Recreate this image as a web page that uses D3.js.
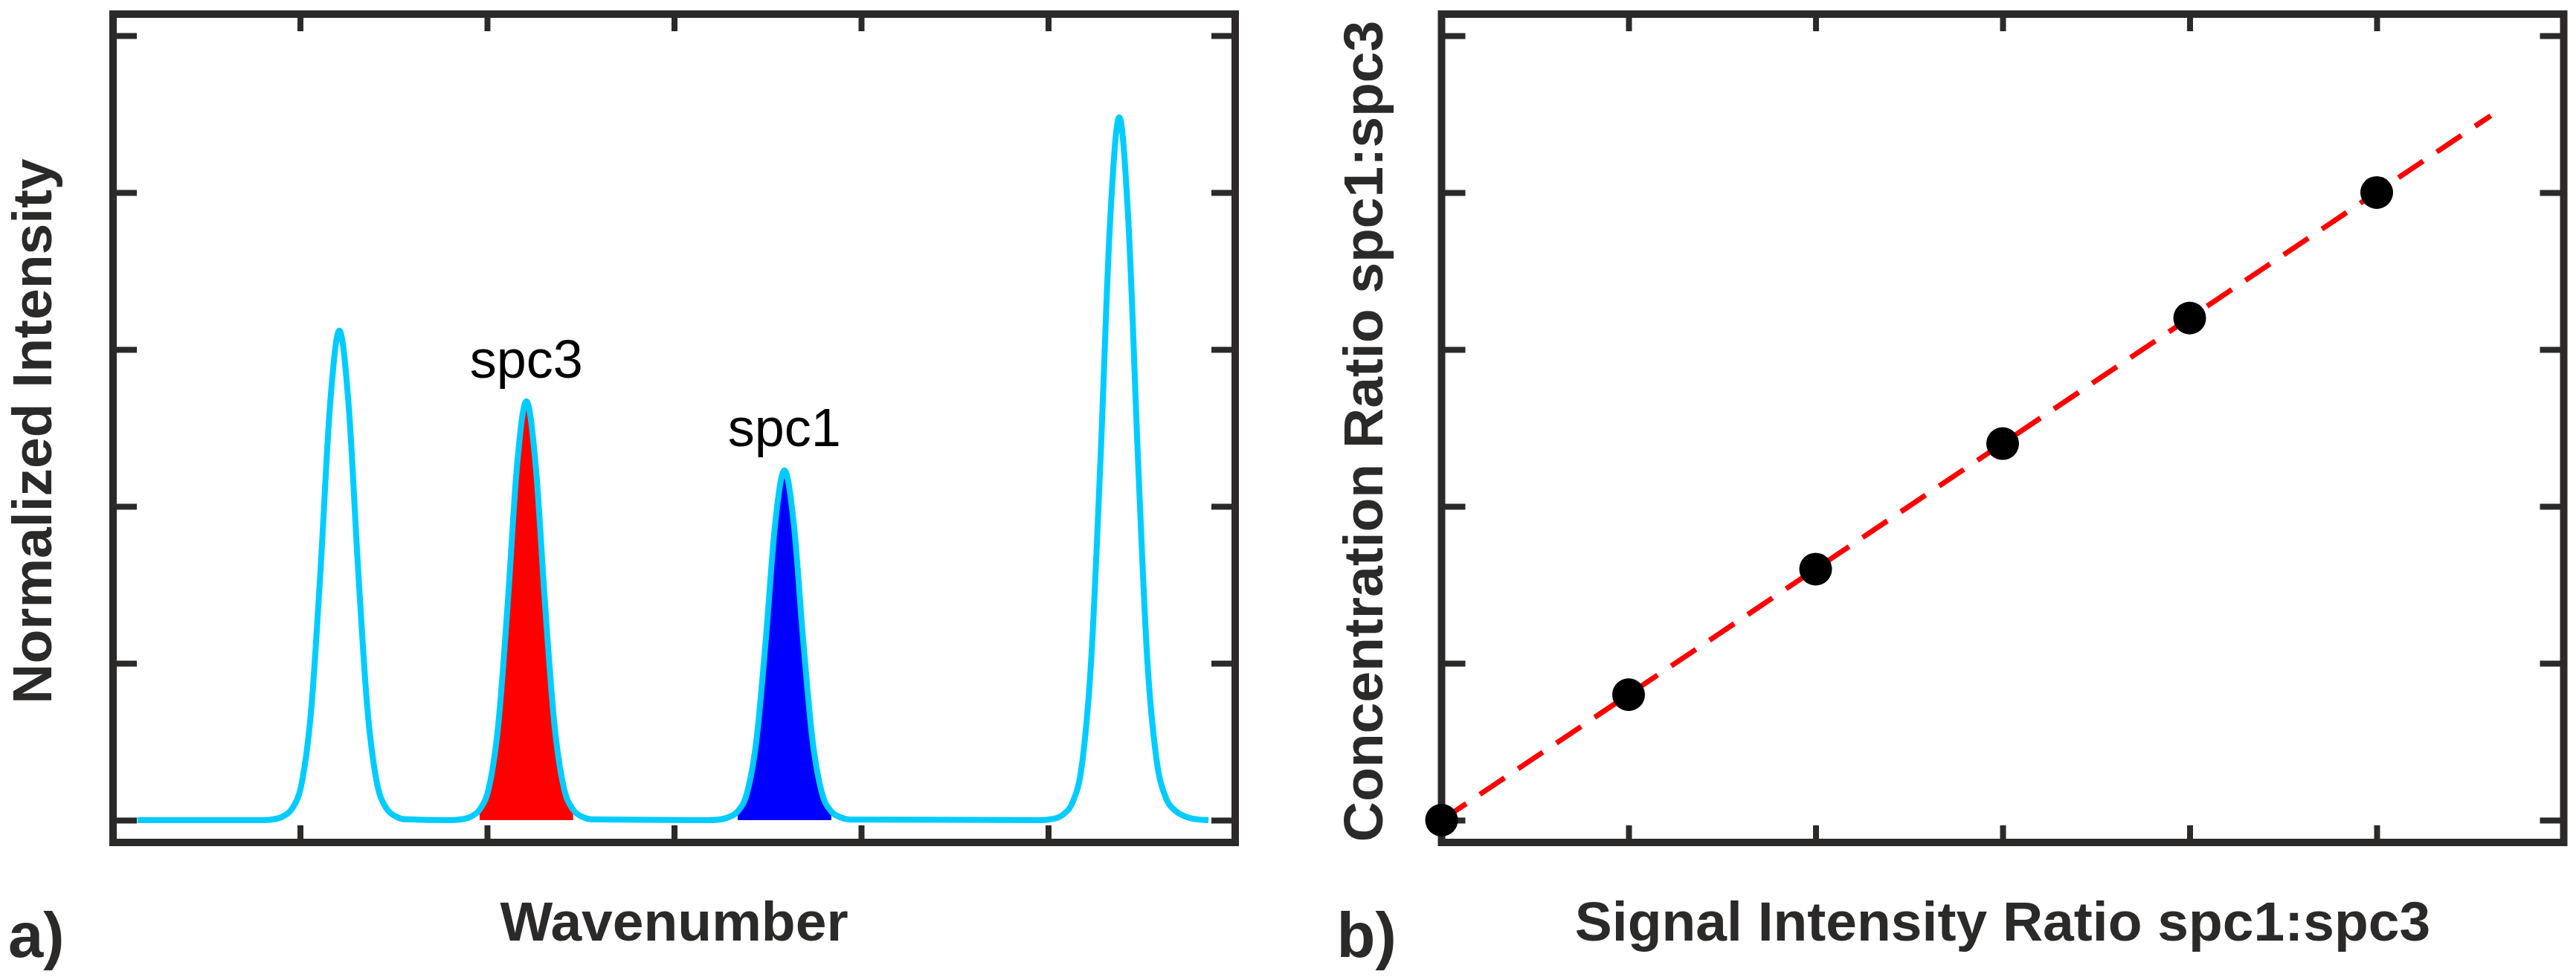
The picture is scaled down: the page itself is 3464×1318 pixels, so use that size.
<!DOCTYPE html>
<html>
<head>
<meta charset="utf-8">
<script src="https://cdn.jsdelivr.net/npm/d3@7"></script>
<style>
  body { margin: 0; background: #fff; }
  text { font-family: "Liberation Sans", Arial, sans-serif; }
</style>
</head>
<body>
<svg id="chart" width="3464" height="1318"></svg>
<script>
// spectrum read off panel a) (x in tick units, y in tick units)
var specX = [0.13, 0.80, 0.86, 0.91, 0.96, 1.01, 1.06, 1.11, 1.16, 1.21, 1.26, 1.31, 1.36, 1.41, 1.46, 1.51, 1.56,
             1.80, 1.86, 1.91, 1.96, 2.01, 2.06, 2.11, 2.16, 2.21, 2.26, 2.31, 2.36, 2.41, 2.46, 2.51, 2.56,
             3.18, 3.24, 3.29, 3.34, 3.39, 3.44, 3.49, 3.54, 3.59, 3.64, 3.69, 3.74, 3.79, 3.84, 3.89, 3.94,
             4.96, 5.03, 5.08, 5.13, 5.18, 5.23, 5.28, 5.33, 5.38, 5.43, 5.48, 5.53, 5.58, 5.63, 5.68, 5.73, 5.78, 5.857];
var specY = [0, 0, 0.006, 0.025, 0.078, 0.243, 0.711, 1.607, 2.640, 3.12, 2.640, 1.607, 0.711, 0.243, 0.078, 0.025, 0.006,
             0, 0.005, 0.021, 0.067, 0.208, 0.609, 1.375, 2.259, 2.67, 2.259, 1.375, 0.609, 0.208, 0.067, 0.021, 0.005,
             0, 0.004, 0.018, 0.056, 0.174, 0.508, 1.148, 1.887, 2.23, 1.887, 1.148, 0.508, 0.174, 0.056, 0.018, 0.004,
             0, 0.009, 0.036, 0.112, 0.349, 1.021, 2.307, 3.790, 4.48, 3.790, 2.307, 1.021, 0.380, 0.140, 0.060, 0.025, 0.008, 0];

// shaded bands under the two marker peaks
var bandNames = ["spc3", "spc1"];
var bandFrom = [1.96, 3.34];
var bandTo = [2.46, 3.84];
var bandColors = ["#ff0000", "#0000ff"];
var bandPeakX = [2.21, 3.59];
var bandPeakY = [2.67, 2.23];

// calibration points of panel b)
var ratioX = [0, 1, 2, 3, 4, 5];
var ratioY = [0, 0.80, 1.60, 2.40, 3.20, 4.00];
var fitX = [0, 5.61];
var fitY = [0, 4.49];

var yTicks = [0, 1, 2, 3, 4, 5];
var xTicks = [1, 2, 3, 4, 5];

var axisColor = "#2b2a29";
var svg = d3.select("#chart");

function makePanel(left, right, xLabel, yLabel, yLabelX, tag) {
    var x = d3.scaleLinear().domain([0, 6]).range([left, right]);
    var y = d3.scaleLinear().domain([-0.142, 5.137]).range([1133, 19]);
    var g = svg.append("g");

    // ticks, pointing inwards
    var axes = [
        [d3.axisLeft(y).tickValues(yTicks).tickSize(-32), "translate(" + left + ",0)"],
        [d3.axisRight(y).tickValues(yTicks).tickSize(-32), "translate(" + right + ",0)"],
        [d3.axisBottom(x).tickValues(xTicks).tickSize(-23), "translate(0,1133)"],
        [d3.axisTop(x).tickValues(xTicks).tickSize(-23), "translate(0,19)"]
    ];
    axes.forEach(function (a) {
        var ax = g.append("g").attr("transform", a[1]).call(a[0].tickFormat(""));
        ax.select(".domain").remove();
        ax.selectAll("line").attr("stroke", axisColor).attr("stroke-width", 8);
    });

    g.append("rect")
        .attr("x", left).attr("y", 19)
        .attr("width", right - left).attr("height", 1133 - 19)
        .attr("fill", "none")
        .attr("stroke", axisColor)
        .attr("stroke-width", 10);

    g.append("text")
        .attr("x", (left + right) / 2).attr("y", 1265)
        .attr("text-anchor", "middle")
        .attr("font-weight", "bold")
        .style("font-size", "75px")
        .attr("fill", axisColor)
        .text(xLabel);

    g.append("text")
        .attr("transform", "translate(" + yLabelX + ",580) rotate(-90)")
        .attr("text-anchor", "middle")
        .attr("font-weight", "bold")
        .style("font-size", "75px")
        .attr("fill", axisColor)
        .text(yLabel);

    g.append("text")
        .attr("x", left - 141).attr("y", 1287)
        .attr("font-weight", "bold")
        .style("font-size", "85px")
        .attr("fill", axisColor)
        .text(tag);

    return {x: x, y: y, g: g};
}

// panel a)
var a = makePanel(152, 1661, "Wavenumber", "Normalized Intensity", 69, "a)");
var spec = specX.map(function (d, i) { return [d, specY[i]]; });

bandNames.forEach(function (name, i) {
    var pts = spec.filter(function (p) { return p[0] >= bandFrom[i] && p[0] <= bandTo[i]; });
    a.g.append("path")
        .datum(pts)
        .attr("fill", bandColors[i])
        .attr("d", d3.area()
            .x(function (p) { return a.x(p[0]); })
            .y0(a.y(0))
            .y1(function (p) { return a.y(p[1]); })
            .curve(d3.curveMonotoneX));
});

a.g.append("path")
    .datum(spec)
    .attr("fill", "none")
    .attr("stroke", "#00ccff")
    .attr("stroke-width", 8)
    .attr("stroke-linejoin", "round")
    .attr("d", d3.line()
        .x(function (p) { return a.x(p[0]); })
        .y(function (p) { return a.y(p[1]); })
        .curve(d3.curveMonotoneX));

bandNames.forEach(function (name, i) {
    a.g.append("text")
        .attr("x", a.x(bandPeakX[i]))
        .attr("y", a.y(bandPeakY[i]) - 32)
        .attr("text-anchor", "middle")
        .style("font-size", "72px")
        .attr("fill", "#000")
        .text(name);
});

// panel b)
var b = makePanel(1938.5, 3447.5, "Signal Intensity Ratio spc1:spc3", "Concentration Ratio spc1:spc3", 1859, "b)");

b.g.append("line")
    .attr("x1", b.x(fitX[0])).attr("y1", b.y(fitY[0]))
    .attr("x2", b.x(fitX[1])).attr("y2", b.y(fitY[1]))
    .attr("stroke", "#ff0000")
    .attr("stroke-width", 7)
    .attr("stroke-dasharray", "40 22");

b.g.selectAll("circle")
    .data(ratioX)
    .enter().append("circle")
    .attr("cx", function (d) { return b.x(d); })
    .attr("cy", function (d, i) { return b.y(ratioY[i]); })
    .attr("r", 22)
    .attr("fill", "#000");
</script>
</body>
</html>
